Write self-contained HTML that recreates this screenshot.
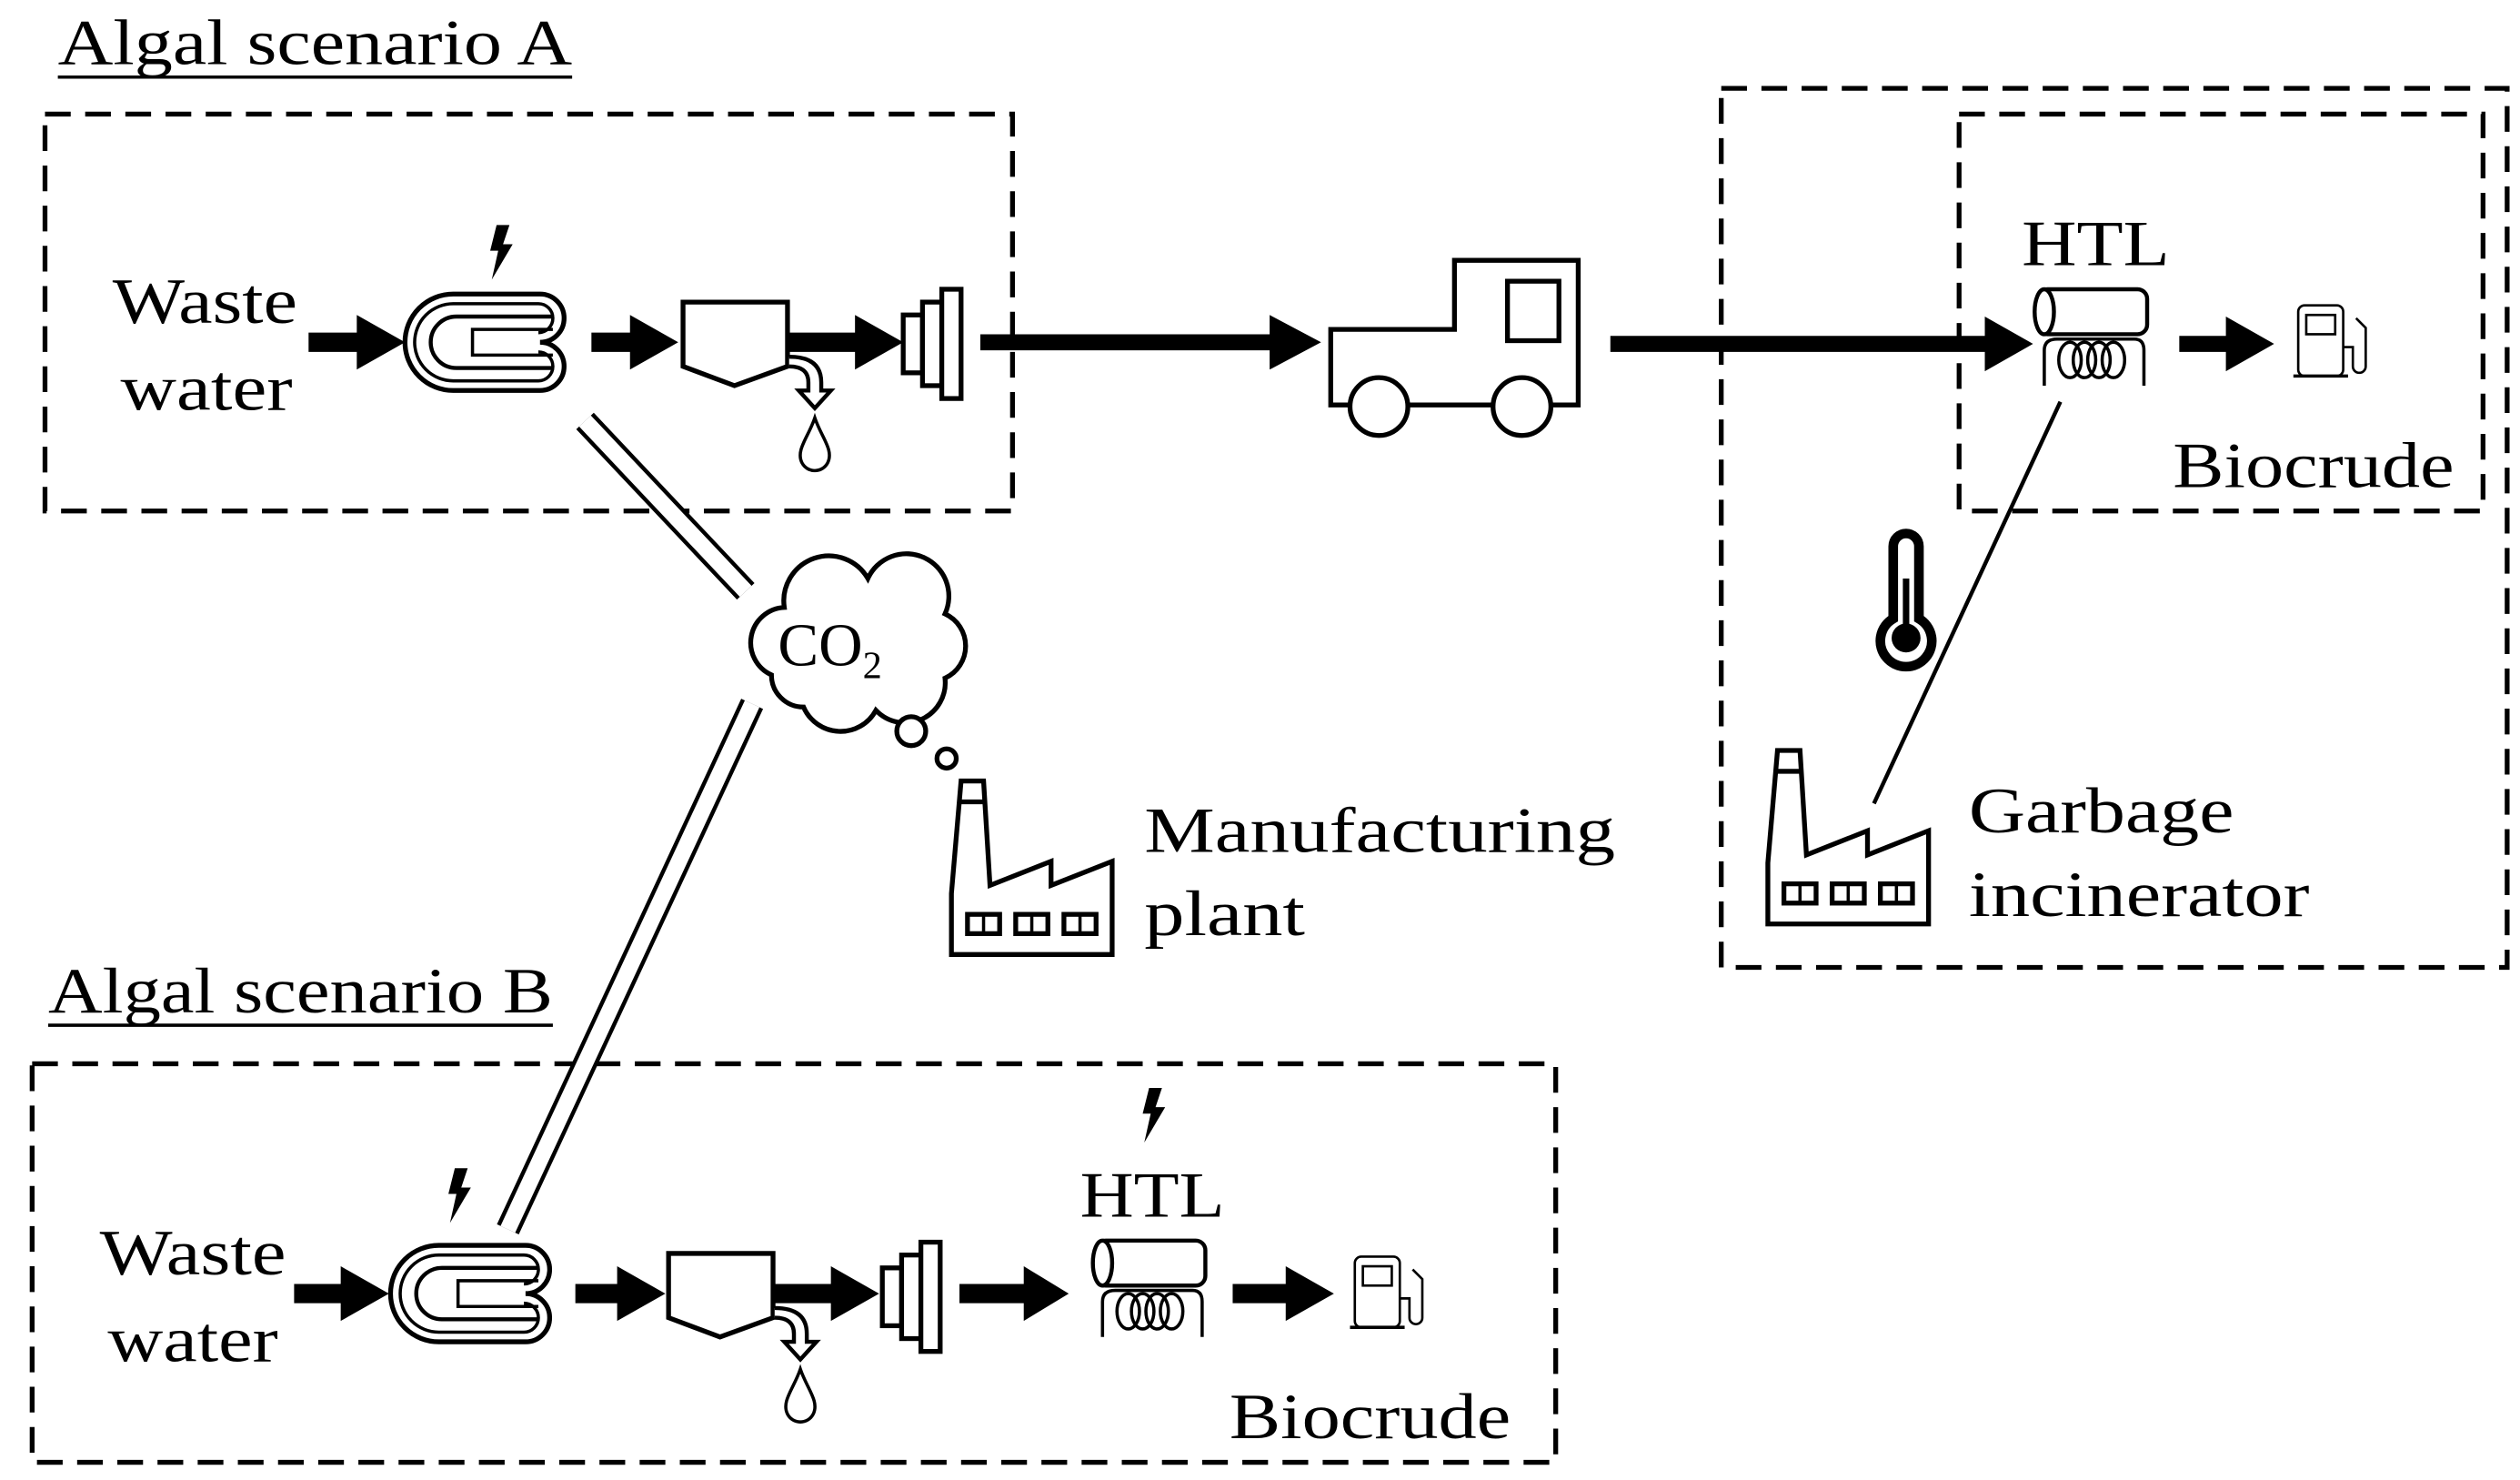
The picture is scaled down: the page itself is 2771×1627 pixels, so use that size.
<!DOCTYPE html>
<html><head><meta charset="utf-8"><style>
html,body{margin:0;padding:0;background:#fff;}
svg{display:block;}
text{font-family:"Liberation Serif",serif;fill:#000;}
</style></head><body>
<svg width="2771" height="1627" viewBox="0 0 1568 921" preserveAspectRatio="none" xmlns="http://www.w3.org/2000/svg">
<defs>
<g id="hx">
<path d="M30,0 H84 A15,15 0 0 1 84,30 A15,15 0 0 1 84,60 H30 A30,30 0 0 1 30,0 Z" fill="#fff" stroke="#000" stroke-width="3"/>
<path d="M30,6 H83 A9,9 0 0 1 83,24 M83,36 A9,9 0 0 1 83,54 H30 A24,24 0 0 1 30,6" fill="none" stroke="#000" stroke-width="2"/>
<path d="M92,14 H32 A16,16 0 0 0 32,46 H92" fill="none" stroke="#000" stroke-width="2.5"/>
<path d="M92,22 H42 V38 H92" fill="none" stroke="#000" stroke-width="2"/>
</g>
<g id="bolt"><polygon points="6,0 14,0 10,12 16,12 3,34 7,16 2,16" fill="#000"/></g>
<g id="settler">
<polygon points="0,0 65,0 65,40 32,52 0,40" fill="#fff" stroke="#000" stroke-width="3"/>
<path d="M66,40 Q78,40 78,50 V55 H72 L82,66 L92,55 H86 V50 Q86,34 66,34" fill="#fff" stroke="#000" stroke-width="2.5"/>
<path d="M82,72 C78,84 70,92 74,100 A9,9 0 0 0 90,100 C94,92 86,84 82,72 Z" fill="#fff" stroke="#000" stroke-width="2"/>
</g>
<g id="filter">
<rect x="0" y="16" width="12" height="36" fill="#fff" stroke="#000" stroke-width="3"/>
<rect x="12" y="8" width="12" height="52" fill="#fff" stroke="#000" stroke-width="3"/>
<rect x="24" y="0" width="12" height="68" fill="#fff" stroke="#000" stroke-width="3"/>
</g>
<g id="pump">
<rect x="0" y="2" width="28" height="44" rx="4" fill="#fff" stroke="#000" stroke-width="1.5"/>
<rect x="5" y="8" width="18" height="12" fill="#fff" stroke="#000" stroke-width="1.5"/>
<line x1="-3" y1="46" x2="31" y2="46" stroke="#000" stroke-width="2"/>
<path d="M28,28 H34 V40 A4,4 0 0 0 42,40 V16 L36,10" fill="none" stroke="#000" stroke-width="1.5"/>
</g>
<g id="htl">
<rect x="6" y="0" width="68" height="28" rx="6" fill="#fff" stroke="#000" stroke-width="2.5"/>
<ellipse cx="10" cy="14" rx="6" ry="14" fill="#fff" stroke="#000" stroke-width="2.5"/>
<path d="M10,60 V38 Q10,31 18,31 H66 Q72,31 72,38 V60" fill="none" stroke="#000" stroke-width="2"/>
<ellipse cx="26" cy="44" rx="7" ry="11" fill="none" stroke="#000" stroke-width="2"/>
<ellipse cx="35" cy="44" rx="7" ry="11" fill="none" stroke="#000" stroke-width="2"/>
<ellipse cx="44" cy="44" rx="7" ry="11" fill="none" stroke="#000" stroke-width="2"/>
<ellipse cx="53" cy="44" rx="7" ry="11" fill="none" stroke="#000" stroke-width="2"/>
</g>
<g id="factory">
<path d="M0,113 V75 L6,5 H20 L24,70 L62,55 V70 L100,55 V113 Z" fill="#fff" stroke="#000" stroke-width="3"/>
<line x1="5" y1="18" x2="21" y2="18" stroke="#000" stroke-width="3"/>
<g fill="#fff" stroke="#000" stroke-width="3">
<rect x="10" y="88" width="20" height="12"/><rect x="40" y="88" width="20" height="12"/><rect x="70" y="88" width="20" height="12"/>
</g>
<g stroke="#000" stroke-width="2"><line x1="20" y1="88" x2="20" y2="100"/><line x1="50" y1="88" x2="50" y2="100"/><line x1="80" y1="88" x2="80" y2="100"/></g>
</g>
</defs>

<g fill="none" stroke="#000" stroke-width="3" stroke-dasharray="16,9">
<rect x="28" y="71" width="602" height="247"/>
<rect x="1071" y="55" width="489" height="547"/>
<rect x="1219" y="71" width="326" height="247"/>
<rect x="20" y="662" width="948" height="248"/>
</g>

<text x="36" y="40" font-size="40" textLength="320" lengthAdjust="spacingAndGlyphs">Algal scenario A</text>
<line x1="36" y1="48" x2="356" y2="48" stroke="#000" stroke-width="2"/>
<text x="30" y="630" font-size="40" textLength="314" lengthAdjust="spacingAndGlyphs">Algal scenario B</text>
<line x1="30" y1="638" x2="344" y2="638" stroke="#000" stroke-width="2"/>

<text x="70" y="201" font-size="40" textLength="115" lengthAdjust="spacingAndGlyphs">Waste</text>
<text x="75" y="255" font-size="40" textLength="107" lengthAdjust="spacingAndGlyphs">water</text>
<path d="M192,207 H222 V196 L252,213 L222,230 V219 H192 Z"/>
<use href="#hx" x="252" y="183"/>
<use href="#bolt" x="303" y="140"/>
<path d="M368,207 H392 V196 L422,213 L392,230 V219 H368 Z"/>
<use href="#settler" x="425" y="188"/>
<path d="M490,207 H532 V196 L562,213 L532,230 V219 H490 Z"/>
<use href="#filter" x="562" y="180"/>
<path d="M610,208 H790 V196 L822,213 L790,230 V218 H610 Z"/>

<path d="M828,205 H905 V162 H982 V252 H828 Z" fill="#fff" stroke="#000" stroke-width="3"/>
<rect x="938" y="175" width="32" height="37" fill="#fff" stroke="#000" stroke-width="3"/>
<circle cx="858" cy="253" r="18" fill="#fff" stroke="#000" stroke-width="3"/>
<circle cx="947" cy="253" r="18" fill="#fff" stroke="#000" stroke-width="3"/>

<path d="M1002,209 H1235 V197 L1265,214 L1235,231 V219 H1002 Z"/>

<text x="1258" y="165" font-size="40" textLength="92" lengthAdjust="spacingAndGlyphs">HTL</text>
<use href="#htl" x="1262" y="180"/>
<path d="M1356,209 H1385 V197 L1415,214 L1385,231 V219 H1356 Z"/>
<use href="#pump" x="1430" y="188"/>
<text x="1352" y="303" font-size="40" textLength="175" lengthAdjust="spacingAndGlyphs">Biocrude</text>
<line x1="1282" y1="250" x2="1166" y2="500" stroke="#000" stroke-width="2.5"/>
<path d="M1178,385 V340 A8,8 0 0 1 1194,340 V385 A16,16 0 1 1 1178,385 Z" fill="#fff" stroke="#000" stroke-width="6"/>
<line x1="1186" y1="360" x2="1186" y2="395" stroke="#000" stroke-width="4"/>
<circle cx="1186" cy="397" r="9" fill="#000"/>
<use href="#factory" x="1100" y="462"/>
<text x="1225" y="518" font-size="40" textLength="165" lengthAdjust="spacingAndGlyphs">Garbage</text>
<text x="1225" y="570" font-size="40" textLength="212" lengthAdjust="spacingAndGlyphs">incinerator</text>

<g stroke-linecap="butt">
<line x1="364" y1="262" x2="464" y2="368" stroke="#000" stroke-width="15"/>
<line x1="364" y1="262" x2="464" y2="368" stroke="#fff" stroke-width="10"/>
<line x1="468" y1="438" x2="316" y2="765" stroke="#000" stroke-width="15"/>
<line x1="468" y1="438" x2="316" y2="765" stroke="#fff" stroke-width="10"/>
</g>

<path d="M480,420 A22,22 0 0 1 488,378 A28,28 0 0 1 540,360 A26,26 0 0 1 588,382 A22,22 0 0 1 588,422 A25,25 0 0 1 545,442 A25,25 0 0 1 500,440 A20,20 0 0 1 480,420 Z" fill="#fff" stroke="#000" stroke-width="3"/>
<text x="484" y="414" font-size="38">CO<tspan font-size="24" dy="8">2</tspan></text>
<circle cx="567" cy="455" r="9" fill="#fff" stroke="#000" stroke-width="3"/>
<circle cx="589" cy="472" r="6" fill="#fff" stroke="#000" stroke-width="3"/>
<use href="#factory" x="592" y="481"/>
<text x="712" y="530" font-size="40" textLength="293" lengthAdjust="spacingAndGlyphs">Manufacturing</text>
<text x="712" y="582" font-size="40" textLength="100" lengthAdjust="spacingAndGlyphs">plant</text>

<text x="62" y="793" font-size="40" textLength="116" lengthAdjust="spacingAndGlyphs">Waste</text>
<text x="67" y="847" font-size="40" textLength="106" lengthAdjust="spacingAndGlyphs">water</text>
<path d="M183,799 H212 V788 L242,805 L212,822 V811 H183 Z"/>
<use href="#hx" x="243" y="775"/>
<use href="#bolt" x="277" y="727"/>
<path d="M358,799 H384 V788 L414,805 L384,822 V811 H358 Z"/>
<use href="#settler" x="416" y="780"/>
<path d="M482,799 H517 V788 L547,805 L517,822 V811 H482 Z"/>
<use href="#filter" x="549" y="773"/>
<path d="M597,799 H637 V788 L665,805 L637,822 V811 H597 Z"/>
<text x="672" y="757" font-size="40" textLength="90" lengthAdjust="spacingAndGlyphs">HTL</text>
<use href="#bolt" x="709" y="677"/>
<use href="#htl" x="676" y="772"/>
<path d="M767,799 H800 V788 L830,805 L800,822 V811 H767 Z"/>
<use href="#pump" x="843" y="780"/>
<text x="765" y="895" font-size="40" textLength="175" lengthAdjust="spacingAndGlyphs">Biocrude</text>
</svg>
</body></html>
